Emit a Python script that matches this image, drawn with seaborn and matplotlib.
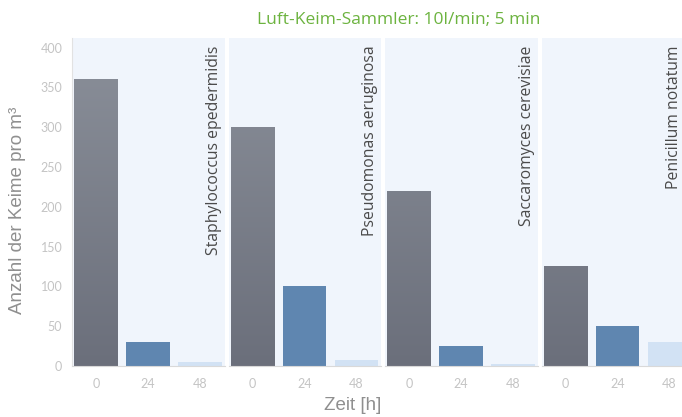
import numpy as np
import pandas as pd
import matplotlib
matplotlib.use("Agg")
import matplotlib.pyplot as plt
import seaborn as sns

organisms = ["Staphylococcus epedermidis", "Pseudomonas aeruginosa",
             "Saccaromyces cerevisiae", "Penicillum notatum"]
times = ["0", "24", "48"]
values = {
    "Staphylococcus epedermidis": [360, 30, 5],
    "Pseudomonas aeruginosa": [300, 100, 8],
    "Saccaromyces cerevisiae": [220, 25, 3],
    "Penicillum notatum": [125, 50, 30],
}
yticks = [0, 50, 100, 150, 200, 250, 300, 350, 400]
title = "Luft-Keim-Sammler: 10l/min; 5 min"
xlabel = "Zeit [h]"
ylabel = "Anzahl der Keime pro m³"

sns.set_style("white")
plt.rcParams["font.family"] = ["Lato", "DejaVu Sans"]

bar_colors = ["#7c808b", "#5f86b0", "#d2e2f4"]
bg = "#f0f5fc"

W, H = 682, 417
fig = plt.figure(figsize=(W / 100, H / 100), dpi=100)
fig.patch.set_facecolor("white")

left0, pw, gap = 72, 153, 3.5
top_px, bot_px = 38, 366
label_x = [0.925, 0.925, 0.925, 0.865]

cmap = matplotlib.colors.LinearSegmentedColormap.from_list("g", ["#6b6f7b", "#8a8f99"])

axes = []
for i, org in enumerate(organisms):
    l = left0 + i * (pw + gap)
    ax = fig.add_axes([l / W, (H - bot_px) / H, pw / W, (bot_px - top_px) / H])
    axes.append(ax)
    df = pd.DataFrame({"Zeit": times, "Anzahl": values[org]})
    sns.barplot(data=df, x="Zeit", y="Anzahl", hue="Zeit", palette=bar_colors,
                order=times, hue_order=times, legend=False, width=0.83,
                ax=ax, saturation=1, edgecolor="none")
    ax.set_facecolor(bg)
    # gradient on the first (grey) bar, spanning the full value range
    p = ax.patches[0]
    x0, w = p.get_x(), p.get_width()
    grad = np.linspace(0, 1, 256).reshape(-1, 1)
    im = ax.imshow(grad, extent=[x0, x0 + w, 0, yticks[-1]], origin="lower",
                   aspect="auto", cmap=cmap, zorder=p.get_zorder() + 0.1)
    im.set_clip_path(p)
    ax.set_xlim(-0.46, 2.48)
    ax.set_ylim(0, 412)
    for sp in ["top", "right", "left"]:
        ax.spines[sp].set_visible(False)
    ax.spines["bottom"].set_color("#d9d9d9")
    ax.spines["bottom"].set_linewidth(0.8)
    ax.tick_params(axis="x", length=0, labelsize=9, labelcolor="#c4c4c4", pad=9)
    ax.set_xlabel("")
    ax.set_ylabel("")
    if i == 0:
        ax.set_yticks(yticks)
        ax.spines["left"].set_visible(True)
        ax.spines["left"].set_color("#e2e2e2")
        ax.spines["left"].set_linewidth(0.8)
        ax.tick_params(axis="y", length=3, color="#d9d9d9", labelsize=9,
                       labelcolor="#c4c4c4", pad=4)
    else:
        ax.set_yticks([])
    ax.text(label_x[i], 0.978, org, rotation=90, ha="center", va="top",
            transform=ax.transAxes, fontsize=11.3, color="#4a4a4a",
            family=["Open Sans", "DejaVu Sans"])

fig.text(399 / W, 1 - 20 / H, title, ha="center", va="center", fontsize=12.5,
         color="#6cb33f", family=["Open Sans", "DejaVu Sans"])
fig.text(353 / W, 1 - 406 / H, xlabel, ha="center", va="center", fontsize=13.5,
         color="#8f8f8f", family=["Liberation Sans", "DejaVu Sans"])
fig.text(18 / W, 1 - 210 / H, ylabel, ha="center", va="center", rotation=90,
         fontsize=13.5, color="#8f8f8f", family=["Liberation Sans", "DejaVu Sans"])

fig.savefig("out.png", dpi=100, facecolor="white")
